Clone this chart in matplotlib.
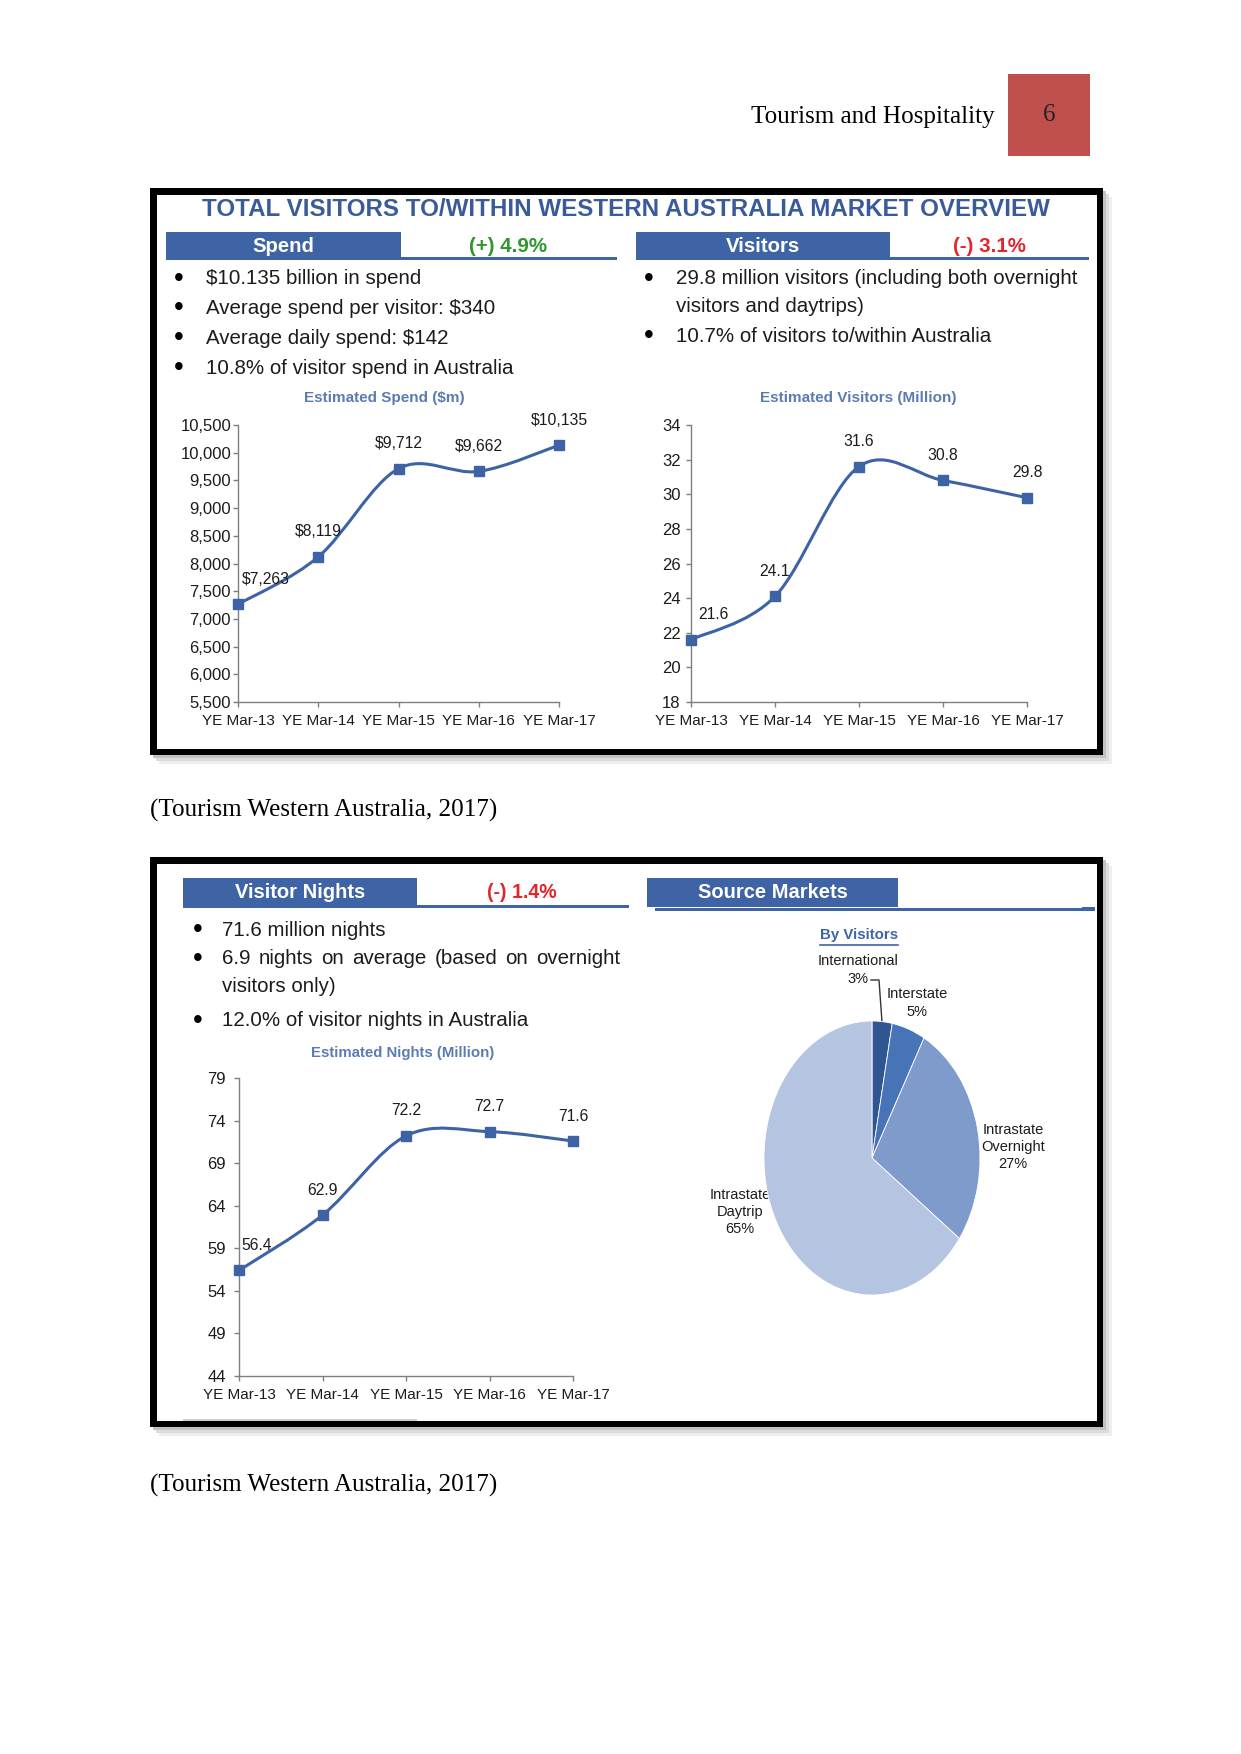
"""Page 6 of the tourism report: WA market overview panels (spend, visitors,
nights line charts + source-market pie), redrawn as one page image."""
import matplotlib
matplotlib.use("Agg")
import matplotlib.pyplot as plt
import numpy as np
from matplotlib import font_manager
from matplotlib.patches import PathPatch, Rectangle
from matplotlib.path import Path

W, H = 1241, 1754

# ---- data -----------------------------------------------------------------
years = ["YE Mar-13", "YE Mar-14", "YE Mar-15", "YE Mar-16", "YE Mar-17"]
spend = [7263, 8119, 9712, 9662, 10135]
visitors = [21.6, 24.1, 31.6, 30.8, 29.8]
nights = [56.4, 62.9, 72.2, 72.7, 71.6]

spend_ticks = [5500, 6000, 6500, 7000, 7500, 8000, 8500, 9000, 9500, 10000, 10500]
visitor_ticks = [18, 20, 22, 24, 26, 28, 30, 32, 34]
night_ticks = [44, 49, 54, 59, 64, 69, 74, 79]

market_names = ["International", "Interstate", "Intrastate\nOvernight", "Intrastate\nDaytrip"]
market_share = [3, 5, 27, 65]

spend_bullets = ["$10.135 billion in spend", "Average spend per visitor: $340",
                 "Average daily spend: $142", "10.8% of visitor spend in Australia"]
visitor_bullets = ["29.8 million visitors (including both overnight",
                   "visitors and daytrips)", "10.7% of visitors to/within Australia"]
night_bullets = ["71.6 million nights", "6.9 nights on average (based on overnight",
                 "visitors only)", "12.0% of visitor nights in Australia"]

# ---- style ----------------------------------------------------------------
BAR = "#3F64A6"
NAVY = "#3A5B9B"
LINE = "#3D63A6"
SUB = "#5B7BB2"
GREEN = "#2E962E"
RED = "#E3262B"
TXT = "#1c1c1c"
PIE = ["#2F5592", "#4774B6", "#7E9BCB", "#B4C4E1"]

names = {f.name for f in font_manager.fontManager.ttflist}
NARROW = "Liberation Sans Narrow" if "Liberation Sans Narrow" in names else "Liberation Sans"
SANS = ["Liberation Sans", "DejaVu Sans"]
SERIF = ["Liberation Serif", "DejaVu Serif"]
plt.rcParams["font.family"] = SANS

fig = plt.figure(figsize=(W / 100, H / 100), dpi=100)
page = fig.add_axes([0, 0, 1, 1])
page.set_xlim(0, W)
page.set_ylim(H, 0)
page.axis("off")
R = fig.canvas.get_renderer()


def fig_rect(x0, y0, x1, y1):
    return [x0 / W, 1 - y1 / H, (x1 - x0) / W, (y1 - y0) / H]


def put(x, y, s, width=None, **kw):
    kw.setdefault("family", [NARROW, "DejaVu Sans"])
    kw.setdefault("va", "center")
    t = page.text(x, y, s, **kw)
    if width:
        w = t.get_window_extent(R).width
        t.set_fontsize(t.get_fontsize() * width / w)
    return t


def justify(words, x0, x1, y, **kw):
    ts = [page.text(0, y, w, va="center", family=[NARROW, "DejaVu Sans"], **kw) for w in words]
    ws = [t.get_window_extent(R).width for t in ts]
    gap = (x1 - x0 - sum(ws)) / (len(ws) - 1)
    x = x0
    for t, w in zip(ts, ws):
        t.set_x(x)
        x += w + gap


def frame(x0, y0, x1, y1):
    for off, c in ((9, "#efefef"), (6, "#dcdcdc"), (3, "#c2c2c2")):
        page.add_patch(Rectangle((x0 + off, y0 + off), x1 - x0, y1 - y0, fc=c, ec="none"))
    page.add_patch(Rectangle((x0, y0), x1 - x0, y1 - y0, fc="black", ec="none"))
    b = 6.5
    page.add_patch(Rectangle((x0 + b, y0 + b), x1 - x0 - 2 * b, y1 - y0 - 2 * b,
                             fc="white", ec="none"))


def header_bar(x0, x1, y0, y1, line_end, label, lw_target, pct, pct_color, pct_x, pct_w):
    page.add_patch(Rectangle((x0, y0), x1 - x0, y1 - y0, fc=BAR, ec="none"))
    page.add_patch(Rectangle((x1, y1 - 3), line_end - x1, 3, fc=BAR, ec="none"))
    put((x0 + x1) / 2, (y0 + y1) / 2, label, width=lw_target, ha="center",
        color="white", fontweight="bold", fontsize=16)
    if pct:
        put(pct_x, (y0 + y1) / 2, pct, width=pct_w, ha="center",
            color=pct_color, fontweight="bold", fontsize=16)


def bullet(x, y):
    put(x, y, "\u2022", ha="center", fontsize=bsize * 1.35, color="black")


def smooth_path(x, y):
    # Excel-style smoothed line: Catmull-Rom segments as cubic Beziers
    p = np.column_stack([x, y]).astype(float)
    q = np.vstack([p[0], p, p[-1]])
    verts, codes = [p[0]], [Path.MOVETO]
    for i in range(1, len(q) - 2):
        c1 = q[i] + (q[i + 1] - q[i - 1]) / 6
        c2 = q[i + 1] - (q[i + 2] - q[i]) / 6
        verts += [c1, c2, q[i + 1]]
        codes += [Path.CURVE4] * 3
    return Path(verts, codes)


def line_chart(rect, values, ticks, labels, first_dx, ypad, fmt=str):
    ax = fig.add_axes(fig_rect(*rect))
    ax.patch.set_alpha(0)
    x = np.arange(len(values))
    ax.add_patch(PathPatch(smooth_path(x, values), fc="none", ec=LINE, lw=2.2,
                           clip_on=False, zorder=2))
    ax.plot(x, values, ls="none", marker="s", ms=7, color=LINE, clip_on=False, zorder=3)
    for i, (v, lab) in enumerate(zip(values, labels)):
        ax.annotate(lab, (i, v), xytext=(first_dx if i == 0 else 0, 25),
                    textcoords="offset pixels", ha="center", va="center",
                    fontsize=11.3, color=TXT)
    ax.set_xlim(0, len(values) - 1)
    ax.set_ylim(ticks[0], ticks[-1])
    ax.set_xticks(x)
    ax.set_xticklabels(years, fontsize=11, color=TXT)
    ax.set_yticks(ticks)
    ax.set_yticklabels([fmt(t) for t in ticks], fontsize=12, color=TXT)
    for s in ("top", "right"):
        ax.spines[s].set_visible(False)
    for s in ("left", "bottom"):
        ax.spines[s].set_color("#7f7f7f")
        ax.spines[s].set_linewidth(1)
    ax.tick_params(axis="both", length=3.5, width=1, color="#7f7f7f")
    ax.tick_params(axis="x", pad=5)
    ax.tick_params(axis="y", pad=ypad)
    return ax


# ---- page header -----------------------------------------------------------
put(995, 123, "Tourism and Hospitality", ha="right", va="baseline", family=SERIF,
    fontsize=18.1, color="black")
page.add_patch(Rectangle((1008, 74), 82, 82, fc="#C0504D", ec="none"))
put(1049, 115, "6", ha="center", family=SERIF, fontsize=18.1, color="#222222")

# ---- panel 1: spend & visitors -------------------------------------------
frame(150, 188, 1103, 755)
put(626, 209, "TOTAL VISITORS TO/WITHIN WESTERN AUSTRALIA MARKET OVERVIEW", width=847,
    ha="center", color=NAVY, fontweight="bold", fontsize=20)
header_bar(166, 401, 232, 260, 617, "Spend", 62, "(+) 4.9%", GREEN, 508, 78)
header_bar(636, 890, 232, 260, 1089, "Visitors", 74, "(-) 3.1%", RED, 989, 73)

ref = put(206, 0, spend_bullets[3], width=309, fontsize=16)
bsize = ref.get_fontsize()
ref.remove()
for s, y in zip(spend_bullets, [279, 308, 338, 368]):
    bullet(179, y)
    put(206, y, s, fontsize=bsize, color=TXT)
for s, y, has_bullet in zip(visitor_bullets, [279, 307, 336], [True, False, True]):
    if has_bullet:
        bullet(649, y)
    put(676, y, s, fontsize=bsize, color=TXT)

put(384, 398, "Estimated Spend ($m)", width=161, ha="center", color=SUB,
    fontweight="bold", fontsize=11)
put(858, 398, "Estimated Visitors (Million)", width=197, ha="center", color=SUB,
    fontweight="bold", fontsize=11)

line_chart((238, 425, 559, 702), spend, spend_ticks,
           [f"${v:,}" for v in spend], 28, 1.5, fmt=lambda t: f"{t:,}")
line_chart((691, 425, 1027, 702), visitors, visitor_ticks,
           [f"{v}" for v in visitors], 22, 4)

put(150, 817, "(Tourism Western Australia, 2017)", va="baseline", family=SERIF,
    fontsize=18.1, color="black")

# ---- panel 2: nights & source markets ------------------------------------
frame(150, 857, 1103, 1427)
header_bar(183, 417, 878, 908, 629, "Visitor Nights", 130, "(-) 1.4%", RED, 522, 70)
header_bar(647, 898, 878, 907, 898, "Source Markets", 150, None, None, 0, 0)
page.add_patch(Rectangle((655, 908), 440, 2.5, fc=BAR, ec="none"))
page.add_patch(Rectangle((1082, 907), 13, 4, fc=BAR, ec="none"))
page.add_patch(Rectangle((183, 1419), 234, 1.5, fc="#cfcfcf", ec="none"))

for y in (930, 959, 1021):
    bullet(198, y)
put(222, 930, night_bullets[0], fontsize=bsize, color=TXT)
justify(night_bullets[1].split(), 222, 620, 959, fontsize=bsize, color=TXT)
put(222, 987, night_bullets[2], fontsize=bsize, color=TXT)
put(222, 1021, night_bullets[3], fontsize=bsize, color=TXT)

put(403, 1053, "Estimated Nights (Million)", width=185, ha="center", color=SUB,
    fontweight="bold", fontsize=11)
line_chart((239, 1078, 573, 1376), nights, night_ticks,
           [f"{v}" for v in nights], 18, 6)

# source markets pie
put(859, 935, "By Visitors", width=78, ha="center", color=BAR, fontweight="bold",
    fontsize=11)
page.plot([820, 898], [945, 945], color=BAR, lw=1.2)
pax = fig.add_axes(fig_rect(764, 1021, 980, 1295))
pax.pie(market_share, colors=PIE, startangle=90, counterclock=False,
        wedgeprops=dict(edgecolor="white", linewidth=0.6))
pax.set_aspect("auto")
pax.set_xlim(-1, 1)
pax.set_ylim(-1, 1)

label_pos = [(858, 970), (917, 1003), (1013, 1147), (740, 1212)]
for name, share, (lx, ly) in zip(market_names, market_share, label_pos):
    put(lx, ly, f"{name}\n{share}%", ha="center", fontsize=10.5, color=TXT,
        linespacing=1.3)
page.plot([871, 879, 882], [980, 980, 1022], color="#333333", lw=1)

put(150, 1492, "(Tourism Western Australia, 2017)", va="baseline", family=SERIF,
    fontsize=18.1, color="black")

fig.savefig("out.png", dpi=100, facecolor="white")
